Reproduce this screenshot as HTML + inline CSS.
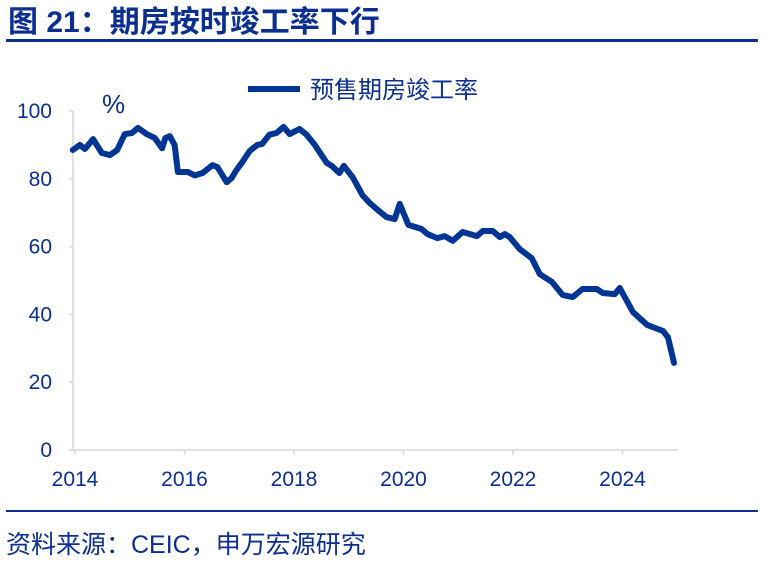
<!DOCTYPE html>
<html><head><meta charset="utf-8"><style>
body{margin:0;background:#fff;}
svg{display:block;font-family:"Liberation Sans","Noto Sans CJK SC",sans-serif;}
</style></head><body>
<svg width="765" height="562" viewBox="0 0 765 562">
<text x="8" y="32" font-size="30" font-weight="bold" fill="#0b2f8f">图 21：期房按时竣工率下行</text>
<rect x="6" y="39" width="752" height="3" fill="#0b2f8f"/>
<rect x="6" y="510" width="752" height="2" fill="#0b2f8f"/>
<text x="6" y="553" font-size="25" fill="#0b2f8f">资料来源：CEIC，申万宏源研究</text>
<line x1="248" y1="89" x2="300" y2="89" stroke="#003594" stroke-width="6"/>
<text x="310" y="98" font-size="24" fill="#0b2f8f">预售期房竣工率</text>
<text x="102" y="113" font-size="26" fill="#0b2f8f">%</text>
<g id="axes"></g>
<path id="series" fill="none" stroke="#003594" stroke-width="6" stroke-linejoin="round" stroke-linecap="round"/>
</svg>
<script>
const dates=[2013.96,2014.09,2014.18,2014.33,2014.49,2014.64,2014.77,2014.91,2015.04,2015.15,2015.31,2015.46,2015.59,2015.65,2015.73,2015.82,2015.88,2016.06,2016.19,2016.33,2016.51,2016.6,2016.77,2016.86,2016.95,2017.06,2017.19,2017.33,2017.42,2017.55,2017.68,2017.81,2017.92,2018.1,2018.23,2018.38,2018.6,2018.69,2018.83,2018.91,2019.07,2019.25,2019.38,2019.53,2019.69,2019.84,2019.93,2020.09,2020.33,2020.44,2020.62,2020.75,2020.9,2021.08,2021.34,2021.45,2021.63,2021.76,2021.85,2021.94,2022.12,2022.34,2022.49,2022.71,2022.91,2023.09,2023.27,2023.53,2023.64,2023.86,2023.95,2024.19,2024.45,2024.74,2024.83,2024.94];
const values=[88.5,90,88.8,91.7,87.6,87,88.5,93.2,93.5,95,93.2,92,89,92,92.6,90,82,82,81,81.7,84,83.5,79,80.2,82.6,85,88.2,90,90.3,93,93.5,95.3,93.2,94.7,93,90,84.7,83.8,81.7,83.8,80.5,75.2,72.9,70.8,68.7,68.1,72.6,66.4,65.2,63.7,62.5,63.1,61.7,64.3,63.1,64.6,64.6,62.8,63.7,62.8,59.3,56.6,51.9,49.6,45.7,45.1,47.5,47.5,46.3,46,47.8,40.7,36.9,35.1,33.3,25.7];
const xTicks=[2014,2016,2018,2020,2022,2024];
const yTicks=[0,20,40,60,80,100];
const X=y=>75+(y-2014)*54.75;
const Y=v=>450-v*3.39;
const ns="http://www.w3.org/2000/svg";
const axes=document.getElementById('axes');
function mk(t,a,p){const e=document.createElementNS(ns,t);for(const k in a)e.setAttribute(k,a[k]);p.appendChild(e);return e;}
const yl=mk('line',{x1:73,y1:111,x2:73,y2:450,stroke:'#d9d9d9','stroke-width':1.5},axes);


const xl=mk('line',{x1:73,y1:450,x2:678,y2:450,stroke:'#d9d9d9','stroke-width':1.5},axes);


yTicks.forEach(v=>{
 const t=mk('line',{x1:69,y1:Y(v),x2:73,y2:Y(v),stroke:'#d9d9d9','stroke-width':1.5},axes);
 
 
 const l=mk('text',{x:52,y:Y(v)+7,'font-size':21,fill:'#0b2f8f','text-anchor':'end'},axes);
 l.textContent=v;
 
 
});
xTicks.forEach(v=>{
 const t=mk('line',{x1:X(v),y1:450,x2:X(v),y2:455,stroke:'#d9d9d9','stroke-width':1.5},axes);
 
 
 const l=mk('text',{x:X(v),y:486,'font-size':21,fill:'#0b2f8f','text-anchor':'middle'},axes);
 l.textContent=v;
 
 
});
document.getElementById('series').setAttribute('d',dates.map((d,i)=>(i?'L':'M')+X(d).toFixed(1)+','+Y(values[i]).toFixed(1)).join(''));
</script>
</body></html>
